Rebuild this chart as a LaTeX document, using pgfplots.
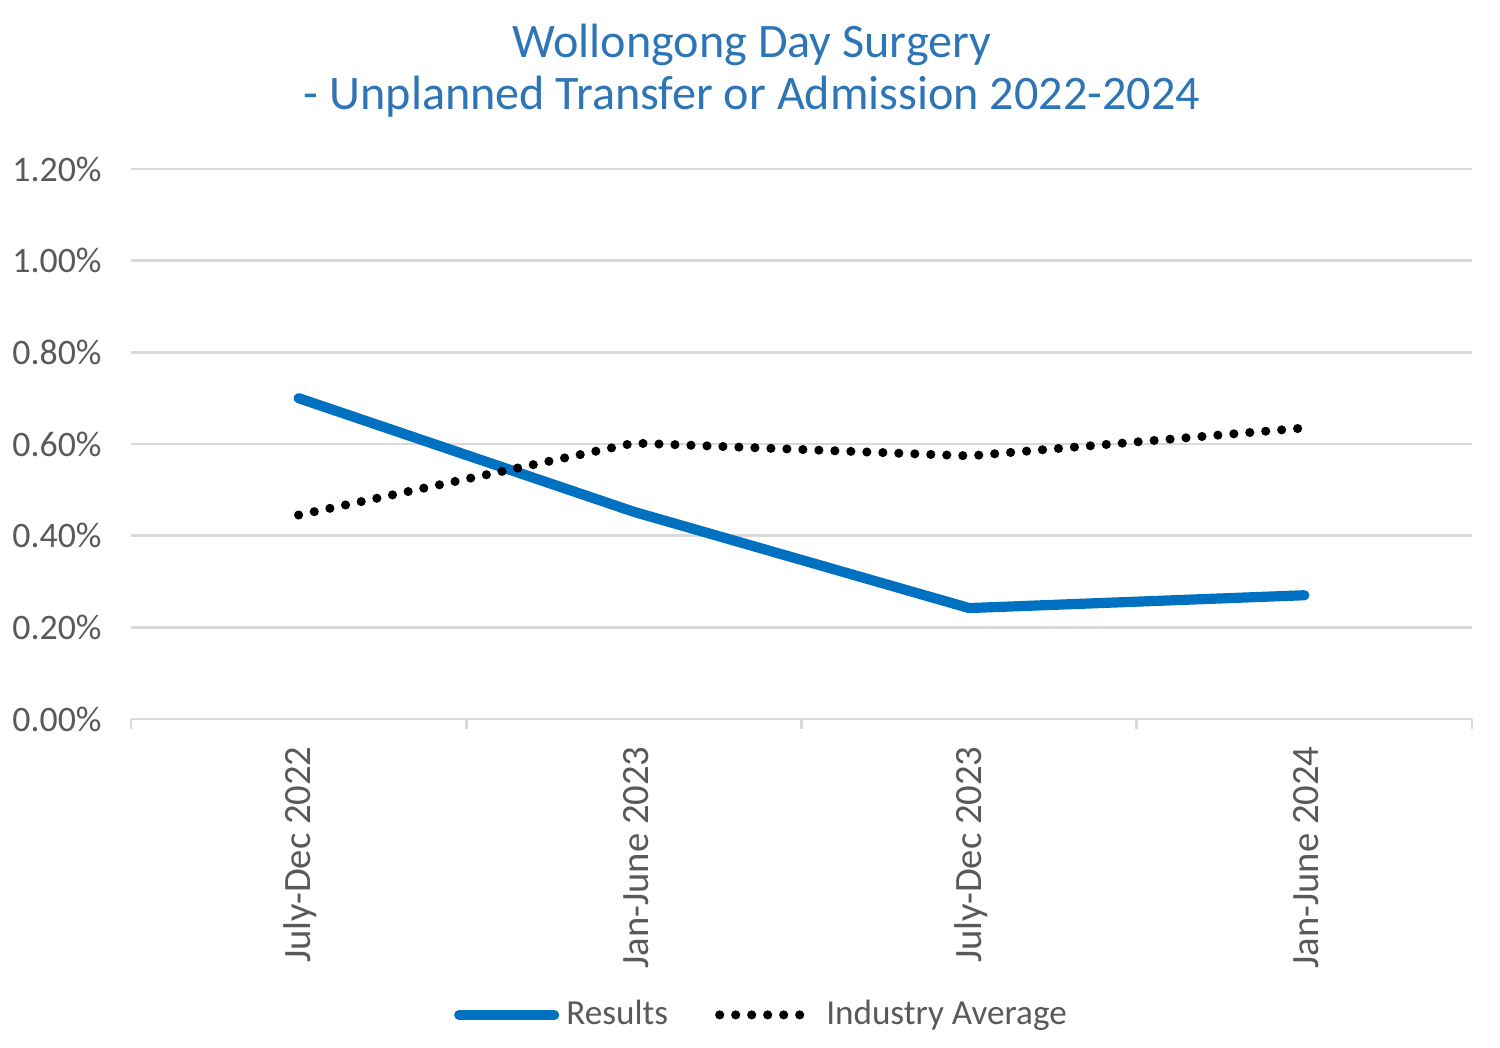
\documentclass[border=0pt]{standalone}
\usepackage{pgfplots}
\pgfplotsset{compat=1.18}
\usetikzlibrary{calc}
\usepackage{fontspec}
\setmainfont{Carlito}
\definecolor{resblue}{RGB}{0,112,192}
\definecolor{titleblue}{RGB}{46,117,182}
\definecolor{gridgray}{RGB}{217,217,217}
\definecolor{labgray}{RGB}{89,89,89}
\begin{document}
\begin{tikzpicture}[x=1cm,y=1cm]
\begin{axis}[
  name=ax,
  scale only axis,
  width=13.41cm, height=5.50cm,
  xmin=-0.5, xmax=3.5,
  ymin=0, ymax=1.2,
  xtick={0,1,2,3},
  xticklabels={July-Dec 2022,Jan-June 2023,July-Dec 2023,Jan-June 2024},
  x tick label style={rotate=90, anchor=east, font=\fontsize{11}{13}\selectfont, text=labgray, yshift=-0.02cm},
  minor xtick={-0.5,0.5,1.5,2.5,3.5},
  major x tick style={draw=none},
  minor x tick style={draw=gridgray, line width=0.8pt},
  xtick align=outside,
  minor tick length=0.1cm,
  xtick pos=bottom,
  ytick pos=left,
  ytick={0,0.2,0.4,0.6,0.8,1.0,1.2},
  yticklabel={\pgfmathprintnumber[fixed,fixed zerofill,precision=2]{\tick}\%},
  y tick label style={font=\fontsize{10.2}{12}\selectfont, text=labgray, xshift=-0.17cm},
  /pgf/number format/assume math mode=true,
  ymajorgrids,
  grid style={draw=gridgray, line width=0.8pt},
  major y tick style={draw=none},
  axis line style={draw=none},
  clip=false,
  legend style={draw=none, at={(0.472,-0.538)}, anchor=center, legend columns=2,
    font=\fontsize{10}{12}\selectfont, text=labgray,
    /tikz/every even column/.append style={column sep=0.4cm}},
  legend image code/.code={\draw[#1] (0cm,0cm) -- (0.95cm,0cm);},
]
\draw[gridgray, line width=0.8pt] (axis cs:-0.5,0) -- (axis cs:3.5,0);
\addplot[resblue, line width=2.9pt, line cap=round] coordinates {(0,0.70) (1,0.452) (2,0.242) (3,0.270)};
\addlegendentry{Results}
\addplot[black, line width=2.6pt, line cap=round, dash pattern=on 0pt off 0.16cm] coordinates {(0,0.445) (1,0.602) (2,0.574) (3,0.635)};
\addlegendentry{Industry Average}
\end{axis}
\node[text=titleblue, font=\fontsize{13.7}{14.8}\selectfont, align=center] at ($(ax.south west)+(6.21,6.48)$) {Wollongong Day Surgery\\- Unplanned Transfer or Admission 2022-2024};
\path ($(ax.south west)+(-1.31,-3.29)$) rectangle ($(ax.south west)+(13.69,7.19)$);
\end{tikzpicture}
\end{document}
